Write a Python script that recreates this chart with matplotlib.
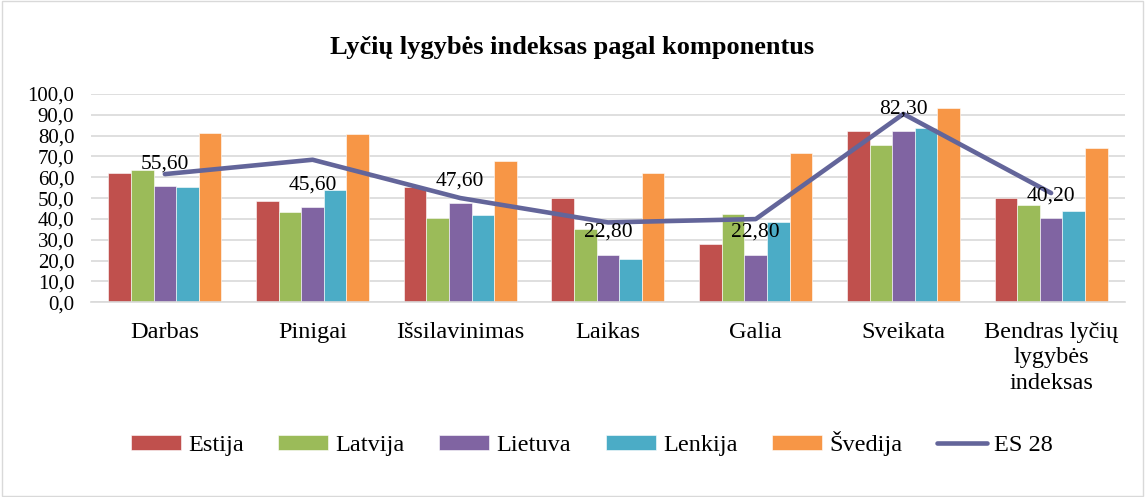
import numpy as np
import matplotlib.pyplot as plt

plt.rcParams['font.family'] = ['Liberation Serif', 'DejaVu Serif']

# Duomenys
categories = ['Darbas', 'Pinigai', 'Išsilavinimas', 'Laikas', 'Galia', 'Sveikata',
              'Bendras lyčių\nlygybės\nindeksas']
estija = [61.8, 48.4, 55.3, 49.8, 27.9, 82.0, 49.8]
latvija = [63.4, 43.1, 40.2, 35.2, 42.5, 75.6, 46.9]
lietuva = [55.6, 45.6, 47.6, 22.8, 22.8, 82.3, 40.2]
lenkija = [55.4, 54.1, 41.8, 20.7, 38.3, 83.6, 43.6]
svedija = [81.2, 80.8, 67.8, 61.8, 71.6, 93.3, 74.2]
es28 = [61.5, 68.4, 50.0, 38.3, 39.9, 90.4, 52.4]

series = [('Estija', estija, '#C0504D'),
          ('Latvija', latvija, '#9BBB59'),
          ('Lietuva', lietuva, '#8064A2'),
          ('Lenkija', lenkija, '#4BACC6'),
          ('Švedija', svedija, '#F79646')]

fig = plt.figure(figsize=(11.45, 4.97), dpi=100)
ax = fig.add_axes([0.0795, 0.392, 0.903, 0.419])

x = np.arange(len(categories))
w = 0.153
for i, (name, vals, col) in enumerate(series):
    ax.bar(x + (i - 2) * w, vals, w, color=col, label=name,
           edgecolor='white', linewidth=0.4, zorder=2)

ax.plot(x, es28, color='#63659A', linewidth=3.3, label='ES 28', zorder=3,
        solid_capstyle='round')

# Lietuvos duomenų žymos
for xi, v in zip(x, lietuva):
    ax.annotate(f'{v:.2f}'.replace('.', ','), (xi, v), xytext=(0, 16),
                textcoords='offset points', ha='center', va='center',
                fontsize=15.5, zorder=4)

ax.set_xlim(-0.5, 6.5)
ax.set_ylim(0, 100)
ax.set_yticks(np.arange(0, 101, 10))
ax.set_yticklabels([f'{v:.1f}'.replace('.', ',') for v in np.arange(0, 101, 10)],
                   fontsize=15)
ax.set_xticks(x)
ax.set_xticklabels(categories, fontsize=17.5, linespacing=1.3, va='top')
ax.tick_params(axis='both', length=0)
ax.tick_params(axis='x', pad=14)
ax.tick_params(axis='y', pad=12)
ax.grid(axis='y', color='#D9D9D9', linewidth=1.2, zorder=0)
ax.set_axisbelow(True)
for s in ['top', 'right', 'left']:
    ax.spines[s].set_visible(False)
ax.spines['bottom'].set_color('#D9D9D9')
ax.spines['bottom'].set_linewidth(1.2)

fig.text(0.5, 0.905, 'Lyčių lygybės indeksas pagal komponentus', ha='center',
         va='center', fontsize=19, fontweight='bold')

handles, labels = ax.get_legend_handles_labels()
order = [1, 2, 3, 4, 5, 0]
fig.legend([handles[k] for k in order], [labels[k] for k in order],
           loc='center', bbox_to_anchor=(0.517, 0.108), ncol=6, frameon=False,
           fontsize=17.5, handlelength=2.05, handleheight=0.55, columnspacing=1.43,
           handletextpad=0.3)

# rėmelis
fig.patches.append(plt.Rectangle((0.002, 0.003), 0.996, 0.994, transform=fig.transFigure,
                                 fill=False, edgecolor='#D9D9D9', linewidth=1))

fig.savefig('out.png', dpi=100)
